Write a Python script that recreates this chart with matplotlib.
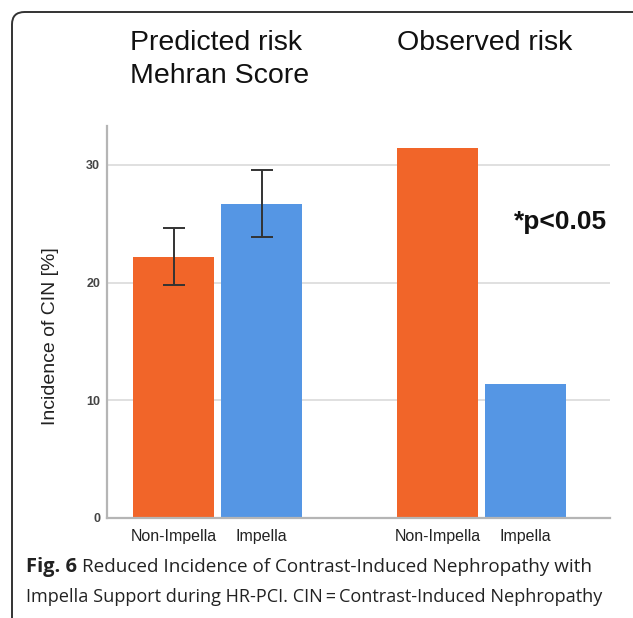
import matplotlib
matplotlib.use('Agg')
import matplotlib.pyplot as plt
from matplotlib.patches import FancyBboxPatch

# data
group_titles = ['Predicted risk\nMehran Score', 'Observed risk']
bar_labels = ['Non-Impella', 'Impella', 'Non-Impella', 'Impella']
bar_pos = [0, 1, 3, 4]
incidence = [22.2, 26.7, 31.4, 11.4]
err_low = [19.8, 23.9]     # lower end of error bars (predicted risk)
err_high = [24.6, 29.6]    # upper end of error bars (predicted risk)
yticks = [0, 10, 20, 30]

orange = '#F16529'
blue = '#5596E4'
bar_colors = [orange, blue, orange, blue]

W, H = 633, 618
plt.rcParams['font.family'] = ['Liberation Sans', 'DejaVu Sans']

fig = plt.figure(figsize=(W / 100, H / 100), dpi=100)

def fx(px):
    return px / W

def fy(py):
    return 1 - py / H

# rounded frame around the figure, cut by the image edge
frame = FancyBboxPatch((fx(12), fy(640)), fx(660), fy(12) - fy(640),
                       boxstyle='round,pad=0,rounding_size=0.02',
                       transform=fig.transFigure, fill=False,
                       ec='#333333', lw=1.4, clip_on=False)
fig.patches.append(frame)

ax = fig.add_axes([fx(107), fy(518), fx(610) - fx(107), fy(126) - fy(518)])
ax.bar(bar_pos, incidence, width=0.91, color=bar_colors, zorder=2)

# error bars on the predicted-risk bars
mid = [incidence[0], incidence[1]]
yerr = [[mid[i] - err_low[i] for i in range(2)],
        [err_high[i] - mid[i] for i in range(2)]]
ax.errorbar(bar_pos[:2], mid, yerr=yerr, fmt='none', ecolor='#333333',
            elinewidth=1.4, capsize=8, capthick=1.4, zorder=3)

ax.set_xlim(-0.756, 4.96)
ax.set_ylim(0, 33.3)
ax.set_yticks(yticks)
ax.set_yticklabels([str(t) for t in yticks], fontsize=9,
                   fontweight='bold', color='#444444')
ax.set_xticks(bar_pos)
ax.set_xticklabels(bar_labels, fontsize=11.5, color='#222222')
ax.tick_params(axis='both', length=0)
ax.tick_params(axis='y', pad=5)
ax.tick_params(axis='x', pad=8)
ax.grid(axis='y', color='#DDDDDD', lw=1.3, zorder=0)
ax.set_axisbelow(True)
for s in ['top', 'right']:
    ax.spines[s].set_visible(False)
for s in ['left', 'bottom']:
    ax.spines[s].set_color('#B5B5B5')
    ax.spines[s].set_linewidth(1.6)

ax.set_ylabel('Incidence of CIN [%]', fontsize=14, color='#222222')
ax.yaxis.set_label_coords(-0.095, 0.464)

ax.text(0.994, 0.755, '*p<0.05', transform=ax.transAxes, ha='right',
        va='center', fontsize=19, fontweight='bold', color='#111111')

# group headings above the plot
fig.text(fx(130), fy(30), group_titles[0], ha='left', va='top',
         fontsize=20.5, color='#111111', linespacing=1.35)
fig.text(fx(397), fy(30), group_titles[1], ha='left', va='top',
         fontsize=20.5, color='#111111')

# caption
cap_font = ['Open Sans', 'DejaVu Sans']
t1 = fig.text(fx(26), fy(567), 'Fig. 6', ha='left', va='center',
              fontsize=14.5, fontweight='bold', family=cap_font, color='#222222')
fig.canvas.draw()
bb = t1.get_window_extent()
fig.text(bb.x1 / W + fx(5), fy(567),
         'Reduced Incidence of Contrast-Induced Nephropathy with',
         ha='left', va='center', fontsize=13.6, family=cap_font, color='#222222')
fig.text(fx(26), fy(597),
         'Impella Support during HR-PCI. CIN\u2009=\u2009Contrast-Induced Nephropathy',
         ha='left', va='center', fontsize=13.1, family=cap_font, color='#222222')

fig.savefig('out.png', dpi=100)
